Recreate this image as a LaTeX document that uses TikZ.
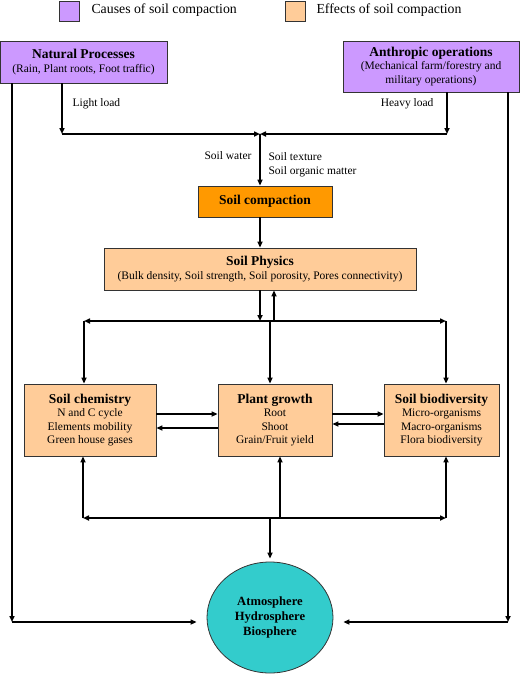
\documentclass[tikz,border=0pt]{standalone}
\usepackage{fontspec}
\setmainfont{Liberation Serif}
\usetikzlibrary{arrows.meta,shapes.geometric}
\definecolor{causecol}{RGB}{204,153,255}
\definecolor{effectcol}{RGB}{255,204,153}
\definecolor{compcol}{RGB}{255,153,0}
\definecolor{earthcol}{RGB}{51,204,204}
\newcommand{\boxtitle}[1]{{\fontsize{13.5}{15}\selectfont\bfseries #1}}
\begin{document}
\begin{tikzpicture}[x=1pt,y=-1pt,
		every node/.style={font=\fontsize{11.5}{13.5}\selectfont},
		frame/.style={draw=black!80,line width=0.8pt,inner sep=0pt,align=center},
		cause/.style={frame,fill=causecol},
		effect/.style={frame,fill=effectcol},
		arr/.style={line width=1.6pt,-{Triangle[length=6pt,width=5pt]}},
		twoarr/.style={line width=1.6pt,{Triangle[length=6pt,width=5pt]}-{Triangle[length=6pt,width=5pt]}}]
	\useasboundingbox (0,0) rectangle (520,675);
	
	\node[cause,minimum width=20pt,minimum height=20pt] (keya) at (69.5,11) {};
	\node[anchor=west,font=\fontsize{13.8}{15}\selectfont] (keyatext) at (88,10) {Causes of soil compaction};
	\node[effect,minimum width=20pt,minimum height=20pt] (keyb) at (295.5,11) {};
	\node[anchor=west,font=\fontsize{13.8}{15}\selectfont] (keybtext) at (313,10) {Effects of soil compaction};
	
	\node[cause,minimum width=167pt,minimum height=42pt] (nat) at (83.5,62) {\boxtitle{Natural Processes}\\(Rain, Plant roots, Foot traffic)};
	\node[cause,minimum width=176pt,minimum height=51pt] (anth) at (431,66.5) {\boxtitle{Anthropic operations}\\(Mechanical farm/forestry and\\military operations)};
	\node[frame,fill=compcol,minimum width=134pt,minimum height=31pt] (comp) at (265,201.5) {\boxtitle{Soil compaction}};
	\node[effect,minimum width=312pt,minimum height=42pt] (phys) at (260,269) {\boxtitle{Soil Physics}\\(Bulk density, Soil strength, Soil porosity, Pores connectivity)};
	\node[effect,minimum width=132pt,minimum height=72pt] (chem) at (90,420) {\boxtitle{Soil chemistry}\\N and C cycle\\Elements mobility\\Green house gases};
	\node[effect,minimum width=114pt,minimum height=72pt] (plant) at (275,420) {\boxtitle{Plant growth}\\Root\\Shoot\\Grain/Fruit yield};
	\node[effect,minimum width=115pt,minimum height=72pt] (bio) at (441.5,420) {\boxtitle{Soil biodiversity}\\Micro-organisms\\Macro-organisms\\Flora biodiversity};
	\node[ellipse,draw=black!80,line width=0.8pt,fill=earthcol,minimum width=126pt,minimum height=111pt,inner sep=0pt,align=center,font=\fontsize{12.6}{14.7}\selectfont\bfseries] (earth) at (270,617.5) {Atmosphere\\Hydrosphere\\Biosphere};
	
	\node[anchor=west] (light) at (69,104) {Light load};
	\node[anchor=east] (heavy) at (437,104) {Heavy load};
	\node[anchor=east] (water) at (255,156) {Soil water};
	\node[anchor=north west,align=left] (texture) at (265,149) {Soil texture\\Soil organic matter};
	
	\coordinate (ll) at (62,134);
	\coordinate (hl) at (447,134);
	\coordinate (jn) at (260,134);
	\coordinate (tl) at (84,321);
	\coordinate (tm) at (270,321);
	\coordinate (tr) at (446,321);
	\coordinate (up) at (274,321);
	\coordinate (bl) at (83,518);
	\coordinate (bm) at (280,518);
	\coordinate (bc) at (270,518);
	\coordinate (br) at (446,518);
	\coordinate (cl) at (12,622);
	\coordinate (cr) at (508,622);
	
	\draw[arr] (nat.south -| ll) -- (ll);
	\draw[arr] (ll) -- (jn);
	\draw[arr] (anth.south -| hl) -- (hl);
	\draw[arr] (hl) -- (jn);
	\draw[arr] (jn) -- (comp.north -| jn);
	\draw[arr] (comp.south -| jn) -- (phys.north -| jn);
	
	\draw[arr] (phys.south -| jn) -- (jn |- tl);
	\draw[arr] (up) -- (phys.south -| up);
	\draw[twoarr] (tl) -- (tr);
	\draw[arr] (tl) -- (chem.north -| tl);
	\draw[arr] (tm) -- (plant.north -| tm);
	\draw[arr] (tr) -- (bio.north -| tr);
	
	\draw[arr] ([yshift=6pt]chem.east) -- ([yshift=6pt]plant.west);
	\draw[arr] ([yshift=-8pt]plant.west) -- ([yshift=-8pt]chem.east);
	\draw[arr] ([yshift=6pt]plant.east) -- ([yshift=6pt]bio.west);
	\draw[arr] ([yshift=-4pt]bio.west) -- ([yshift=-4pt]plant.east);
	
	\draw[twoarr] (bl) -- (br);
	\draw[arr] (bl) -- (chem.south -| bl);
	\draw[arr] (bm) -- (plant.south -| bm);
	\draw[arr] (br) -- (bio.south -| br);
	\draw[arr,shorten >=3pt] (bc) -- (earth.north);
	
	\draw[arr] (nat.south -| cl) -- (cl);
	\draw[arr,shorten >=10pt] (cl) -- (earth.west |- cl);
	\draw[arr] (anth.south -| cr) -- (cr);
	\draw[arr,shorten >=10pt] (cr) -- (earth.east |- cr);
\end{tikzpicture}
\end{document}
